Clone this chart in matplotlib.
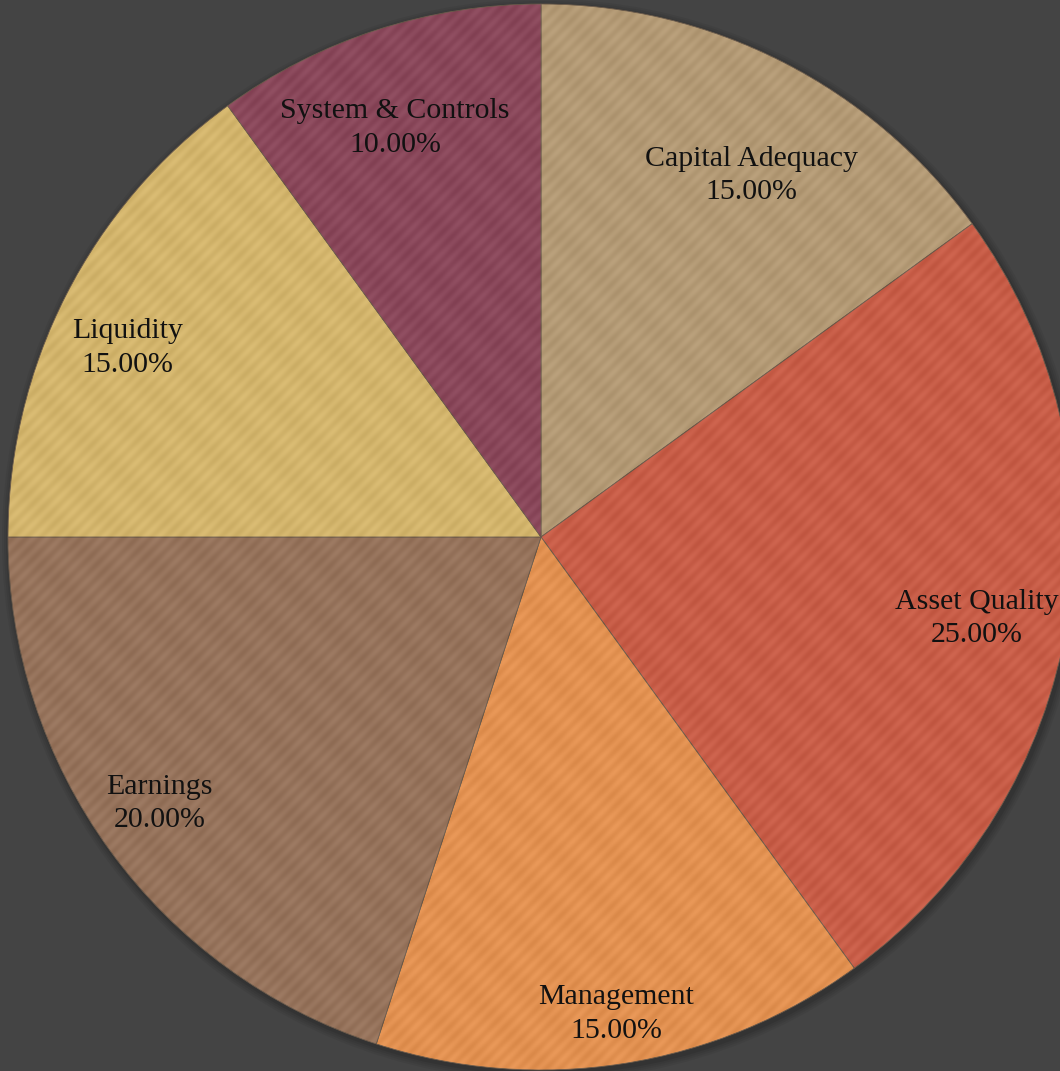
import numpy as np
import matplotlib.pyplot as plt

# ============================================================
# DATA
# ============================================================

categories = ["Capital Adequacy", "Asset Quality", "Management",
              "Earnings", "Liquidity", "System & Controls"]
weights = [15, 25, 15, 20, 15, 10]
colors = ["#B69B74", "#CC5B44", "#E8924E", "#977259", "#D8B86B", "#8A4458"]

# label placement per slice: radius fraction and angle nudge (deg)
label_r = [0.79, 0.83, 0.90, 0.87, 0.855, 0.82]
label_dang = [-3.0, -1.2, 0.0, -1.4, 2.1, 1.5]

# ============================================================
# PLOT
# ============================================================

W, H = 1060, 1071
fig = plt.figure(figsize=(W / 100, H / 100), dpi=100)
fig.patch.set_facecolor("#444444")
ax = fig.add_axes([0, 0, 1, 1])

cx, cy, R = 541, H - 537, 533

# soft shadow under the pie
for i, a in enumerate([0.05, 0.05, 0.06, 0.08]):
    ax.add_patch(plt.Circle((cx + 2, cy - 3), R + 8 - 2 * i,
                            color="black", alpha=a, lw=0, zorder=0))

wedges, _ = ax.pie(
    weights,
    colors=colors,
    startangle=90,
    counterclock=False,
    center=(cx, cy),
    radius=R,
    frame=True,
    wedgeprops=dict(edgecolor="#6b5a4a", linewidth=0.6),
)

# faint woven texture over the pie
yy, xx = np.mgrid[0:H, 0:W]
tex = np.sin((xx + yy) / 2.2) * 0.5 + np.sin((xx - yy) / 9.0) * 0.2
img = ax.imshow(tex, extent=(0, W, 0, H), cmap="gray", alpha=0.06,
                zorder=3, interpolation="bilinear")
clip = plt.Circle((cx, cy), R, transform=ax.transData)
img.set_clip_path(clip)

ax.set_xlim(0, W)
ax.set_ylim(0, H)
ax.set_aspect("equal")
ax.axis("off")

total = sum(weights)
for w, name, val, lr, da in zip(wedges, categories, weights, label_r, label_dang):
    ang = np.deg2rad((w.theta1 + w.theta2) / 2 + da)
    x = cx + lr * R * np.cos(ang)
    y = cy + lr * R * np.sin(ang) - 3
    ax.text(x, y, f"{name}\n{val / total * 100:.2f}%",
            ha="center", va="center", fontsize=21.5,
            family="Liberation Serif", color="#111111",
            linespacing=1.38, zorder=5)

fig.savefig("out.png", dpi=100, facecolor=fig.get_facecolor())
